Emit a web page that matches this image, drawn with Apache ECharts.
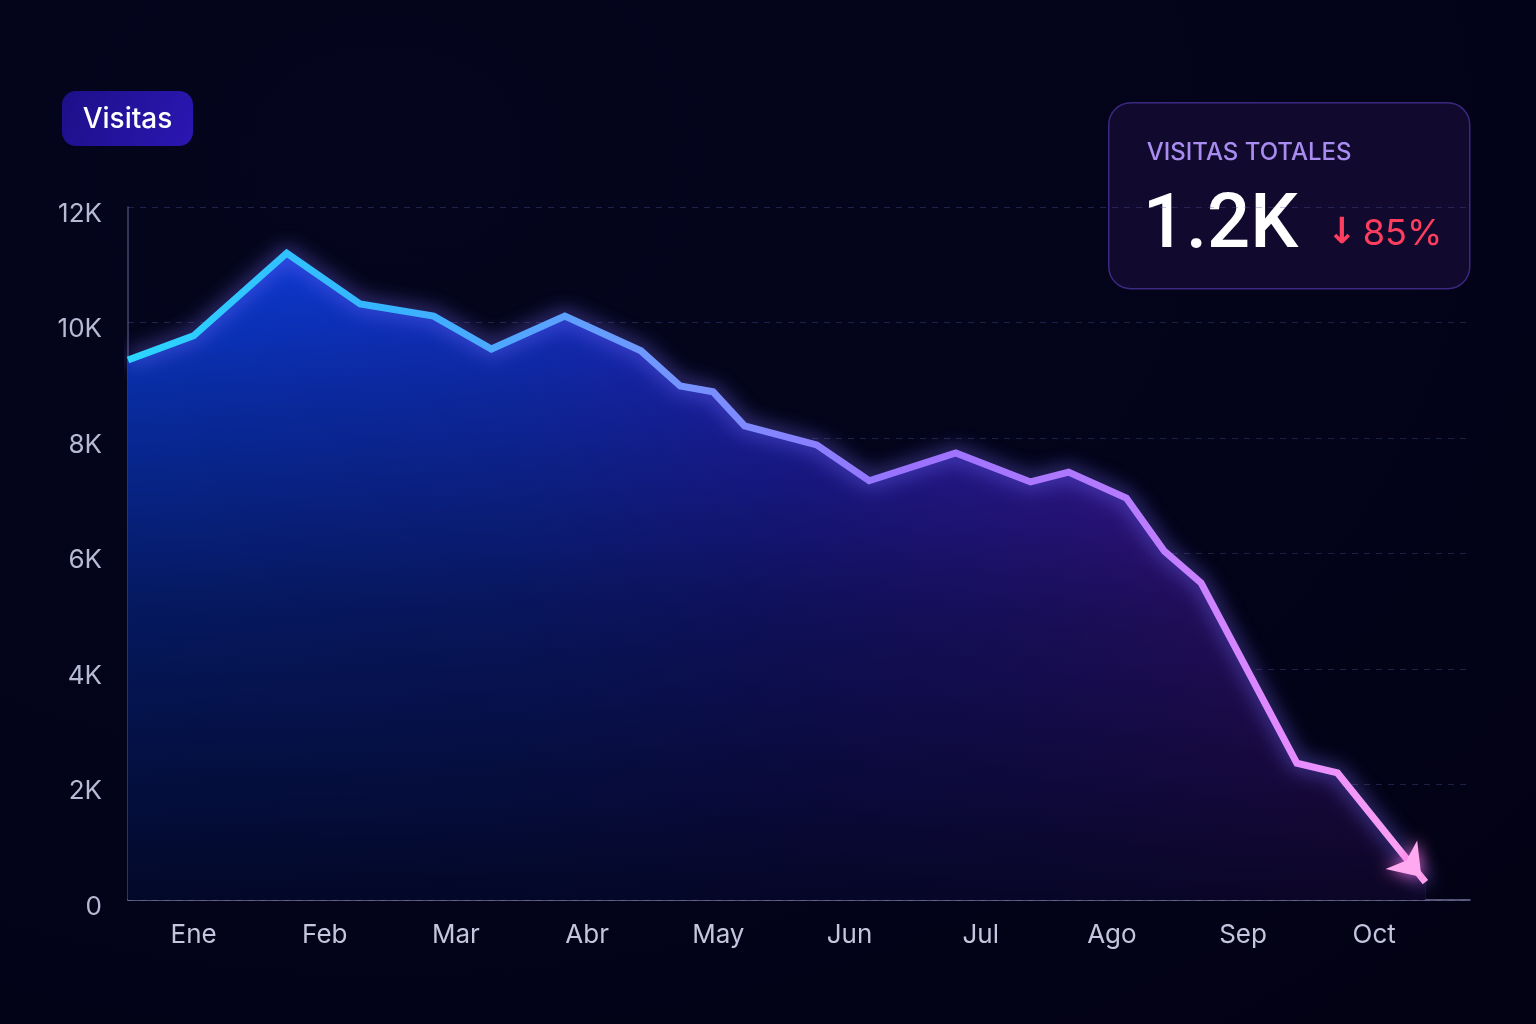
<!DOCTYPE html>
<html>
<head>
<meta charset="utf-8">
<title>Visitas</title>
<script src="https://cdn.jsdelivr.net/npm/echarts@6/dist/echarts.min.js"></script>
<style>
    html, body { margin: 0; padding: 0; }
    body {
        width: 1536px; height: 1024px;
        background: radial-gradient(ellipse at 25% 15%, #05061d 0%, #03031a 55%, #030214 100%);
    }
    #chart { width: 1536px; height: 1024px; }
</style>
</head>
<body>
<div id="chart"></div>
<script>
'use strict';

// etiquetas de los meses (centradas en cada mes)
var months = ['Ene', 'Feb', 'Mar', 'Abr', 'May', 'Jun', 'Jul', 'Ago', 'Sep', 'Oct'];
// posicion de cada punto en meses desde el inicio de Ene
var monthPos = [0, 0.5, 1.21, 1.77, 2.33, 2.77, 3.33, 3.91, 4.21, 4.46, 4.7, 5.25,
    5.65, 6.31, 6.88, 7.17, 7.61, 7.9, 8.18, 8.91, 9.22, 9.89];
var visits = [9350, 9770, 11200, 10320, 10110, 9540, 10110, 9510, 8900, 8800, 8210, 7880,
    7260, 7740, 7240, 7410, 6960, 6040, 5490, 2370, 2200, 310];
var yTicks = [0, 2000, 4000, 6000, 8000, 10000, 12000];

var totalLabel = '1.2K';
var changeLabel = '85%';

var FONT = 'Inter, "Noto Sans", sans-serif';

var points = monthPos.map(function (x, i) {
    return [x, visits[i]];
});
// flecha al final de la linea
var lastPoint = {
    value: points[points.length - 1],
    symbol: 'arrow',
    symbolSize: [32, 30],
    symbolRotate: -138,
    symbolOffset: [-4, -5],
    itemStyle: { color: '#ffaaf0' }
};
var linePoints = points.slice(0, -1).concat([lastPoint]);

var chart = echarts.init(document.getElementById('chart'));

var option = {
    backgroundColor: 'transparent',
    animation: false,
    grid: { left: 128, right: 66, top: 207, bottom: 124 },
    xAxis: {
        type: 'value',
        min: 0,
        max: 10.23,
        interval: 0.5,
        axisLine: { show: true, lineStyle: { color: 'rgba(150,150,195,0.75)', width: 1.5 } },
        axisTick: { show: false },
        splitLine: { show: false },
        axisLabel: {
            color: '#c3c6de',
            fontSize: 26,
            fontFamily: FONT,
            margin: 22,
            formatter: function (v) {
                var f = v - Math.floor(v);
                if (Math.abs(f - 0.5) < 0.01) {
                    return months[Math.floor(v)] || '';
                }
                return '';
            }
        }
    },
    yAxis: {
        type: 'value',
        min: yTicks[0],
        max: yTicks[yTicks.length - 1],
        interval: 2000,
        axisLine: { show: true, lineStyle: { color: 'rgba(110,115,165,0.6)', width: 1.5 } },
        axisTick: { show: false },
        splitLine: { lineStyle: { color: 'rgba(80,90,160,0.35)', type: [6, 6], width: 1 } },
        axisLabel: {
            margin: 26,
            formatter: function (v) {
                return '{t|' + (v === 0 ? '0' : (v / 1000) + 'K') + '}';
            },
            rich: {
                t: {
                    color: '#b6bad4',
                    fontSize: 26,
                    fontFamily: FONT,
                    padding: [14, 0, 0, 0]
                }
            }
        }
    },
    series: [
        {
            // relleno con el color horizontal
            type: 'line',
            data: points,
            symbol: 'none',
            lineStyle: { width: 0 },
            areaStyle: {
                opacity: 1,
                color: new echarts.graphic.LinearGradient(0, 0, 1, 0, [
                    { offset: 0, color: '#0a3bd4' },
                    { offset: 0.3, color: '#1233cc' },
                    { offset: 0.5, color: '#2425c6' },
                    { offset: 0.72, color: '#4020c6' },
                    { offset: 0.88, color: '#5c1ec6' },
                    { offset: 1, color: '#6c1cb0' }
                ])
            },
            z: 1
        },
        {
            // oscurece hacia abajo
            type: 'line',
            data: points,
            symbol: 'none',
            lineStyle: { width: 0 },
            areaStyle: {
                opacity: 1,
                color: new echarts.graphic.LinearGradient(0, 0, 0, 1, [
                    { offset: 0, color: 'rgba(2,3,22,0)' },
                    { offset: 0.2, color: 'rgba(2,3,22,0.25)' },
                    { offset: 0.55, color: 'rgba(2,3,22,0.62)' },
                    { offset: 1, color: 'rgba(2,3,22,0.9)' }
                ])
            },
            z: 2
        },
        {
            type: 'line',
            data: linePoints,
            symbol: 'none',
            showSymbol: true,
            lineStyle: {
                width: 7,
                join: 'miter',
                color: new echarts.graphic.LinearGradient(0, 0, 1, 0, [
                    { offset: 0, color: '#2bd6ff' },
                    { offset: 0.2, color: '#36b4ff' },
                    { offset: 0.4, color: '#6f98ff' },
                    { offset: 0.6, color: '#9a72ff' },
                    { offset: 0.78, color: '#b97cff' },
                    { offset: 0.9, color: '#e78cff' },
                    { offset: 1, color: '#ffa6ee' }
                ]),
                shadowBlur: 20,
                shadowColor: 'rgba(120,110,255,0.9)'
            },
            itemStyle: {
                shadowBlur: 16,
                shadowColor: 'rgba(255,110,220,0.9)'
            },
            z: 5
        }
    ],
    graphic: [
        {
            type: 'group',
            left: 62,
            top: 91,
            children: [
                {
                    type: 'rect',
                    shape: { x: 0, y: 0, width: 131, height: 55, r: 14 },
                    style: {
                        fill: new echarts.graphic.LinearGradient(0, 0, 1, 1, [
                            { offset: 0, color: '#1d1089' },
                            { offset: 1, color: '#2b16b2' }
                        ])
                    }
                },
                {
                    type: 'text',
                    x: 65.5,
                    y: 29,
                    style: {
                        text: 'Visitas',
                        fill: '#ffffff',
                        fontSize: 28,
                        fontWeight: 500,
                        fontFamily: FONT,
                        align: 'center',
                        verticalAlign: 'middle'
                    }
                }
            ]
        },
        {
            type: 'group',
            left: 1108,
            top: 102,
            z: 10,
            children: [
                {
                    type: 'rect',
                    shape: { x: 0, y: 0, width: 361, height: 186, r: 22 },
                    style: {
                        fill: 'rgba(20,12,50,0.85)',
                        stroke: 'rgba(88,60,180,0.65)',
                        lineWidth: 1.5
                    }
                },
                {
                    type: 'text',
                    x: 38,
                    y: 50,
                    style: {
                        text: 'VISITAS TOTALES',
                        fill: '#a88cf0',
                        fontSize: 24,
                        fontWeight: 500,
                        fontFamily: FONT,
                        verticalAlign: 'middle'
                    }
                },
                {
                    type: 'text',
                    x: 34,
                    y: 163,
                    style: {
                        text: totalLabel,
                        fill: '#ffffff',
                        fontSize: 76,
                        fontWeight: 500,
                        fontFamily: 'Roboto, Inter, sans-serif',
                        verticalAlign: 'bottom'
                    }
                },
                {
                    type: 'text',
                    x: 218,
                    y: 131,
                    style: {
                        text: '\u2193',
                        fill: '#ff3d5e',
                        fontSize: 36,
                        fontWeight: 'bold',
                        fontFamily: '"DejaVu Sans", sans-serif',
                        verticalAlign: 'middle'
                    }
                },
                {
                    type: 'text',
                    x: 254,
                    y: 131,
                    style: {
                        text: changeLabel,
                        fill: '#ff3d5e',
                        fontSize: 36,
                        fontFamily: FONT,
                        verticalAlign: 'middle'
                    }
                }
            ]
        }
    ]
};

chart.setOption(option);
</script>
</body>
</html>
